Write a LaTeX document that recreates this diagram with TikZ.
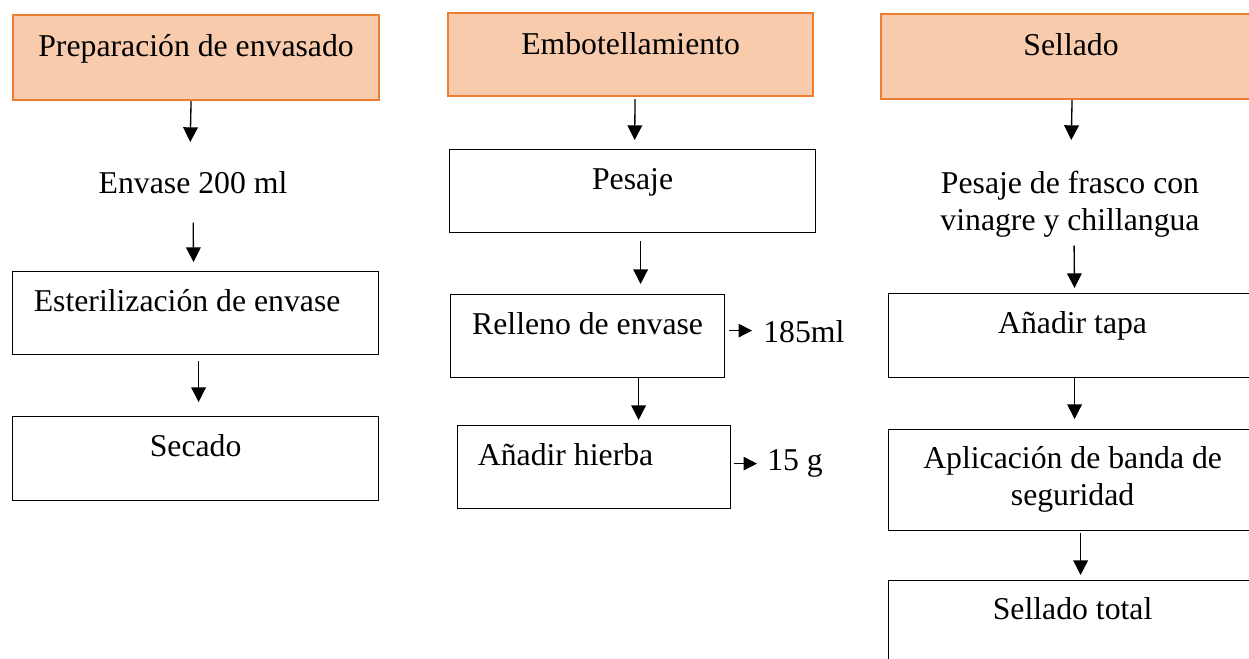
\documentclass[tikz,border=0pt]{standalone}
\usepackage{fontspec}
\setmainfont{Liberation Serif}
\usetikzlibrary{arrows.meta}
\definecolor{hfill}{HTML}{F8CBAD}
\definecolor{hline}{HTML}{ED7D31}
\begin{document}
\begin{tikzpicture}[x=0.75pt,y=-0.75pt,
  font=\rmfamily\fontsize{23.8pt}{27.75pt}\selectfont,
  bx/.style={draw=black, line width=0.9pt, inner ysep=0pt, inner xsep=0pt, anchor=north west, text height=30pt},
  hdr/.style={bx, draw=hline, fill=hfill, line width=1.6pt, text height=30.75pt},
  txt/.style={inner sep=0pt},
  arr/.style={line width=1pt, -{Triangle[width=11pt,length=11pt]}},
  sarr/.style={line width=1pt, -{Triangle[width=10pt,length=10pt]}}]
\path[fill=white] (0,0) rectangle (1249,658);
\useasboundingbox (0,0) rectangle (1249,658);

% column 1
\node[hdr, minimum width=274.5pt, text depth=33pt] (hdr1) at (12,14) {Preparación de envasado};
\node[txt, anchor=north, text height=30pt, text depth=7.5pt] (env) at (193,153) {Envase 200 ml};
\node[bx, minimum width=274.5pt, text depth=32.25pt] (box1) at (12,271) {Esterilización de envase\hspace*{12.75pt}};
\node[bx, minimum width=274.5pt, text depth=33pt] (box2) at (12,416) {Secado};

% column 2
\node[hdr, minimum width=273.75pt, text depth=31.5pt] (hdr2) at (447,12) {Embotellamiento};
\node[bx, minimum width=274.5pt, text depth=32.25pt] (box3) at (449,149) {Pesaje};
\node[bx, minimum width=205.5pt, text depth=32.25pt] (box4) at (450,294) {Relleno de envase};
\node[bx, minimum width=204.75pt, text depth=32.25pt] (box5) at (457,425) {Añadir hierba\hspace*{42.75pt}};
\node[txt, anchor=base west] (lbl1) at (763,342) {185ml};
\node[txt, anchor=base west] (lbl2) at (767,470) {15 g};

% column 3
\node[hdr, minimum width=285pt, text depth=33pt] (hdr3) at (880,13) {Sellado};
\node[txt, anchor=north, text height=30pt, text depth=33pt] (pes) at (1070,153)
  {\begin{tabular}[t]{@{}c@{}}Pesaje de frasco con\\vinagre y chillangua\end{tabular}};
\node[bx, minimum width=276pt, text depth=33pt] (box6) at (888,293) {Añadir tapa};
\node[bx, minimum width=276pt, text height=29.25pt, text depth=46.5pt] (box7) at (888,429)
  {\begin{tabular}[t]{@{}c@{}}Aplicación de banda de\\seguridad\end{tabular}};
\node[bx, minimum width=276pt, text height=29.25pt, text depth=45pt] (box8) at (888,580) {Sellado total};

% connectors column 1
\draw[arr, shorten >=8.25pt] ([xshift=-3.75pt]hdr1.south) -- ([xshift=-2.25pt]env.north);
\draw[arr, shorten <=14.25pt, shorten >=6.75pt] (env.south) -- ([xshift=-1.5pt]box1.north);
\draw[arr, shorten <=4.5pt, shorten >=10.5pt] ([xshift=2.25pt]box1.south) -- ([xshift=2.25pt]box2.north);

% connectors column 2
\draw[arr, shorten <=1.5pt, shorten >=6.75pt] ([xshift=3.375pt]hdr2.south) -- ([xshift=1.5pt]box3.north);
\draw[arr, shorten <=6pt, shorten >=7.5pt] ([xshift=6pt]box3.south) -- ([xshift=39.75pt]box4.north);
\draw[arr, shorten >=3.75pt] ([xshift=38.25pt]box4.south) -- ([xshift=33.375pt]box5.north);
\coordinate (s1a) at ([yshift=4.125pt]box4.east);
\draw[sarr, shorten <=3pt, shorten >=8.25pt] (s1a) -- (s1a -| lbl1.west);
\coordinate (s2a) at ([yshift=2.625pt]box5.east);
\draw[sarr, shorten <=2.25pt, shorten >=7.5pt] (s2a) -- (s2a -| lbl2.west);

% connectors column 3
\draw[arr, shorten >=9.75pt] ([xshift=0.75pt]hdr3.south) -- ([xshift=0.75pt]pes.north);
\draw[arr, shorten <=6pt, shorten >=3.75pt] ([xshift=3pt]pes.south) -- ([xshift=1.5pt]box6.north);
\draw[arr, shorten >=7.5pt] ([xshift=1.5pt]box6.south) -- ([xshift=1.5pt]box7.north);
\draw[arr, shorten <=1.5pt, shorten >=3.75pt] ([xshift=6pt]box7.south) -- ([xshift=6pt]box8.north);
\end{tikzpicture}
\end{document}
